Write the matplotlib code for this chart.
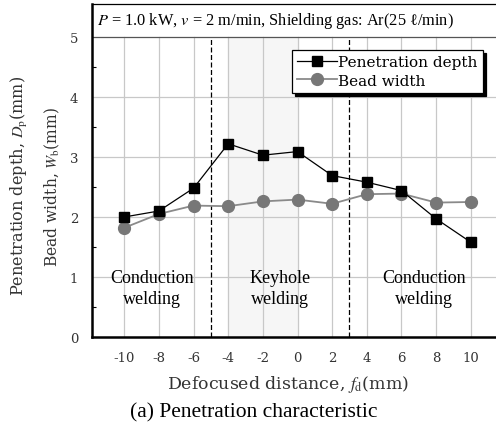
import numpy as np
import matplotlib
matplotlib.use("Agg")
import matplotlib.pyplot as plt

plt.rcParams['mathtext.fontset'] = 'stix'

# defocused distance (mm)
fd = [-10, -8, -6, -4, -2, 0, 2, 4, 6, 8, 10]
depth = [2.00, 2.10, 2.48, 3.22, 3.03, 3.09, 2.69, 2.58, 2.44, 1.97, 1.58]
width = [1.82, 2.05, 2.19, 2.18, 2.26, 2.29, 2.22, 2.38, 2.39, 2.24, 2.25]
xtick_vals = [-10, -8, -6, -4, -2, 0, 2, 4, 6, 8, 10]
xtick_labels = ["-10", "-8", "-6", "-4", "-2", "0", "2", "4", "6", "8", "10"]
ytick_vals = [0, 1, 2, 3, 4, 5]
region_labels = ["Conduction\nwelding", "Keyhole\nwelding", "Conduction\nwelding"]
region_x = [-8.4, -1.0, 7.3]
boundaries = [-5, 3]
keyhole_shade = (-4, 0)

serif = ['Liberation Serif', 'DejaVu Serif']
wide = ['DejaVu Serif']

fig = plt.figure(figsize=(4.96, 4.27), dpi=100)
ax = fig.add_axes([0.1855, 0.2084, 0.83, 0.78])
ax.set_xlim(-11.86, 11.9)
ax.set_ylim(0, 5.55)

# background shading and grid
ax.axvspan(*keyhole_shade, ymax=5 / 5.55, color='#f6f6f6', zorder=0)
for x in xtick_vals:
    ax.plot([x, x], [0, 5], color='#c8c8c8', lw=0.9, zorder=1)
for y in ytick_vals[1:-1]:
    ax.axhline(y, color='#c8c8c8', lw=0.9, zorder=1)
ax.axhline(5, color='#555555', lw=0.9, zorder=2)
for b in boundaries:
    ax.plot([b, b], [0, 5], color='black', lw=0.9, ls=(0, (4, 2)), zorder=2)

ax.plot(fd, depth, color='black', lw=0.9, marker='s', ms=7.5,
        mfc='black', mec='black', label='Penetration depth', zorder=4)
ax.plot(fd, width, color='#8a8a8a', lw=1.3, marker='o', ms=8.5,
        mfc='#777777', mec='#777777', label='Bead width', zorder=3)

for x, t in zip(region_x, region_labels):
    ax.text(x, 0.82, t, ha='center', va='center', family=serif, fontsize=13,
            linespacing=1.3, zorder=5)

ax.text(-11.6, 5.28, r"$P$ = 1.0 kW, $v$ = 2 m/min, Shielding gas: Ar(25 ℓ/min)",
        ha='left', va='center', family=serif, fontsize=11.8)

ax.set_xticks(xtick_vals)
ax.set_xticklabels(xtick_labels, family=wide, fontsize=9.5, color='#333333')
ax.set_yticks(ytick_vals)
ax.set_yticklabels([str(v) for v in ytick_vals], family=wide, fontsize=9.5, color='#333333')
ax.set_yticks(np.arange(0.5, 5, 1.0), minor=True)
ax.tick_params(axis='x', length=0, pad=10)
ax.tick_params(axis='y', which='major', length=0, pad=10)
ax.tick_params(axis='y', which='minor', direction='in', length=3, width=0.8)

ax.spines['left'].set_linewidth(1.8)
ax.spines['bottom'].set_linewidth(1.8)
ax.spines['top'].set_linewidth(0.9)
ax.spines['right'].set_visible(False)

leg = ax.legend(loc='upper right', bbox_to_anchor=(0.95, 0.862), frameon=True,
                fancybox=False, shadow={'color': 'black', 'alpha': 1},
                edgecolor='black', handlelength=2.6, handletextpad=0.1,
                borderpad=0.35, labelspacing=0.3, borderaxespad=0,
                prop={'family': wide, 'size': 11})
leg.get_frame().set_linewidth(0.9)

fig.text(20 / 496, 1 - 186 / 427, r"Penetration depth, $D_{\mathrm{p}}$(mm)",
         rotation=90, ha='center', va='center', family=wide, fontsize=11.6, color='#333333')
fig.text(52 / 496, 1 - 187 / 427, r"Bead width, $W_{\mathrm{b}}$(mm)",
         rotation=90, ha='center', va='center', family=wide, fontsize=11.2, color='#333333')
fig.text(288 / 496, 1 - 385 / 427, r"Defocused distance, $f_{\mathrm{d}}$(mm)",
         ha='center', va='center', family=wide, fontsize=12.5, color='#333333')
fig.text(254 / 496, 1 - 413 / 427, "(a) Penetration characteristic",
         ha='center', va='center', family=serif, fontsize=15.5)

fig.savefig("out.png", dpi=100)
